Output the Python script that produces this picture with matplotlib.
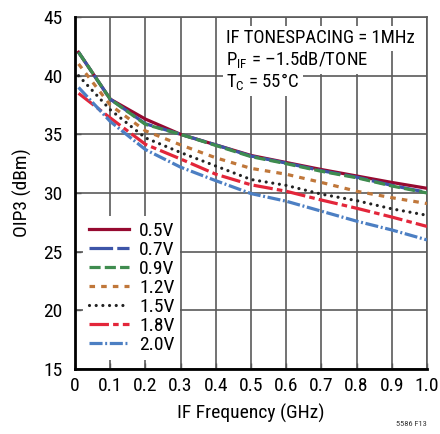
import matplotlib
matplotlib.use("Agg")
import matplotlib.pyplot as plt

plt.rcParams['font.family'] = ['Roboto Condensed', 'DejaVu Sans']
plt.rcParams['mathtext.fontset'] = 'custom'
plt.rcParams['mathtext.rm'] = 'Roboto Condensed'
plt.rcParams['lines.scale_dashes'] = False

# IF frequency (GHz) and OIP3 (dBm) per bias voltage
freq = [0.01, 0.1, 0.2, 0.3, 0.4, 0.5, 0.6, 0.7, 0.8, 0.9, 1.0]
oip3_05v = [42.0, 38.0, 36.3, 35.0, 34.1, 33.2, 32.6, 32.0, 31.45, 30.9, 30.4]
oip3_07v = [42.0, 38.0, 35.9, 35.0, 34.1, 33.15, 32.55, 31.9, 31.35, 30.65, 30.05]
oip3_09v = [42.0, 38.0, 35.85, 35.0, 34.05, 33.1, 32.5, 31.85, 31.3, 30.6, 30.0]
oip3_12v = [41.0, 37.5, 35.3, 34.1, 33.0, 32.1, 31.6, 30.9, 30.15, 29.6, 29.1]
oip3_15v = [40.0, 37.1, 34.7, 33.45, 32.3, 31.15, 30.65, 29.9, 29.35, 28.65, 28.1]
oip3_18v = [38.5, 36.4, 34.15, 32.9, 31.6, 30.7, 30.15, 29.4, 28.7, 27.95, 27.15]
oip3_20v = [39.0, 36.1, 33.7, 32.2, 31.05, 29.95, 29.3, 28.45, 27.6, 26.85, 26.0]
labels = ['0.5V', '0.7V', '0.9V', '1.2V', '1.5V', '1.8V', '2.0V']

series = [oip3_05v, oip3_07v, oip3_09v, oip3_12v, oip3_15v, oip3_18v, oip3_20v]
colors = ['#960a30', '#3d55a8', '#3f8c4f', '#c0773a', '#222222', '#e3263a', '#4c7fc3']
styles = [
    dict(linestyle='-'),
    dict(linestyle=(0, (17, 3))),
    dict(linestyle=(0, (8, 3))),
    dict(linestyle=(0, (4, 4.4))),
    dict(linestyle=(0, (0.01, 4.8)), dash_capstyle='round'),
    dict(linestyle=(0, (14, 3, 4, 3))),
    dict(linestyle=(0, (9.4, 1.9, 1.4, 1.9))),
]

fig = plt.figure(figsize=(4.4, 4.34), dpi=100)
ax = fig.add_axes([0.1705, 0.1498, 0.8, 0.811])

for y, c, st, lab in zip(series, colors, styles, labels):
    ax.plot(freq, y, color=c, lw=2.3, label=lab, zorder=3, **st)

ax.set_xlim(0, 1.0)
ax.set_ylim(15, 45)
ax.set_xticks([0, 0.1, 0.2, 0.3, 0.4, 0.5, 0.6, 0.7, 0.8, 0.9, 1.0])
ax.set_xticklabels(['0', '0.1', '0.2', '0.3', '0.4', '0.5', '0.6', '0.7', '0.8', '0.9', '1.0'])
ax.set_yticks([15, 20, 25, 30, 35, 40, 45])
ax.tick_params(direction='in', length=4, width=1, labelsize=14, color='#555555')
ax.tick_params(axis='y', pad=9)
ax.tick_params(axis='x', pad=6)
ax.grid(True, color='#5a5a5a', lw=1.2, zorder=1)
for s in ['top', 'right']:
    ax.spines[s].set_color('#5a5a5a')
    ax.spines[s].set_linewidth(1.2)
for s in ['left', 'bottom']:
    ax.spines[s].set_color('black')
    ax.spines[s].set_linewidth(2)
    ax.spines[s].set_zorder(6)

ax.set_xlabel('IF Frequency (GHz)', fontsize=14, labelpad=6)
ax.set_ylabel('OIP3 (dBm)', fontsize=14, labelpad=8)

leg = ax.legend(loc='lower left', bbox_to_anchor=(0.022, 0.026), fontsize=14,
                handlelength=2.1, handletextpad=0.5, labelspacing=0.05,
                borderpad=0.3, borderaxespad=0, frameon=True, fancybox=False)
leg.get_frame().set_facecolor('white')
leg.get_frame().set_edgecolor('none')
leg.get_frame().set_alpha(1)
leg.set_zorder(5)

notes = ['IF TONESPACING = 1MHz', 'P$_{\\mathrm{IF}}$ = \u20131.5dB/TONE', 'T$_{\\mathrm{C}}$ = 55\u00b0C']
for i, t in enumerate(notes):
    ax.text(0.43, 0.94 - i * 0.0625, t, transform=ax.transAxes, fontsize=13.5,
            ha='left', va='center', zorder=6,
            bbox=dict(facecolor='white', edgecolor='none', pad=2.5))

fig.text(0.97, 0.015, '5586 F13', fontsize=6, ha='right', va='bottom', color='#333333')

fig.savefig('out.png', dpi=100)
